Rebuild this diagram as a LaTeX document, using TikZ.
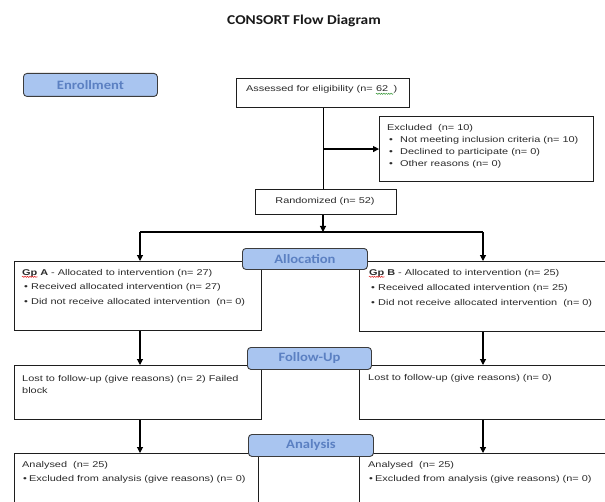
\documentclass[tikz,border=0pt]{standalone}
\usepackage{fontspec}
\usetikzlibrary{arrows.meta,decorations.pathmorphing}
\newfontfamily\boxfont{Liberation Sans}[FakeStretch=1.3]
\newfontfamily\lblfont{Carlito}[FakeStretch=1.14]
\definecolor{lblfill}{HTML}{A9C5F0}
\definecolor{lbltext}{HTML}{5B80C2}
\definecolor{lbldraw}{HTML}{3C3C3C}
\definecolor{txt}{HTML}{2B2B2B}
\definecolor{edge}{HTML}{1E1E1E}
\definecolor{squigred}{HTML}{E02020}
\definecolor{squiggreen}{HTML}{3A9A3A}
\newcommand\bitem[1]{\makebox[#1][l]{\textbullet}}
\begin{document}
\begin{tikzpicture}[x=1bp,y=-1bp,
  box/.style={draw=edge, line width=1.1bp, fill=white, inner sep=0pt, anchor=north west},
  lbl/.style={draw=lbldraw, line width=0.9bp, fill=lblfill, rounded corners=3.5bp, inner sep=0pt, anchor=north west, text=lbltext, font=\lblfont\bfseries\fontsize{12.8bp}{14bp}\selectfont},
  tx/.style={anchor=base west, inner sep=0pt, text=txt, font=\boxfont\fontsize{8.4bp}{12bp}\selectfont},
  arr/.style={draw=black, line width=1.1bp, -{Triangle[width=6bp,length=6bp]}},
  ln/.style={draw=black, line width=1.1bp},
  squig/.style={line width=0.5bp, decorate, decoration={snake, amplitude=0.6bp, segment length=2.4bp}}]
\useasboundingbox (0,0) rectangle (605,502);
\clip (0,0) rectangle (605,502);
\fill[white] (0,0) rectangle (605,502);

% title
\node[inner sep=0pt, text=black!90, font=\lblfont\bfseries\fontsize{13.5bp}{16bp}\selectfont] (title) at (304,21) {CONSORT Flow Diagram};

% boxes
\node[box, minimum width=173bp, minimum height=29bp] (assess) at (236,78) {};
\node[box, minimum width=214bp, minimum height=65bp] (excl) at (379,116) {};
\node[box, minimum width=141bp, minimum height=25bp] (rand) at (255,189) {};
\node[box, minimum width=247bp, minimum height=69bp] (gpA) at (14,261) {};
\node[box, minimum width=260bp, minimum height=70bp] (gpB) at (359,261) {};
\node[box, minimum width=247bp, minimum height=54bp] (lostA) at (14,365) {};
\node[box, minimum width=260bp, minimum height=54bp] (lostB) at (359,365) {};
\node[box, minimum width=244bp, minimum height=70bp] (anaA) at (14,453) {};
\node[box, minimum width=260bp, minimum height=70bp] (anaB) at (359,453) {};

% connectors
\coordinate (colA) at (140,232);
\coordinate (colB) at (483,232);
\coordinate (split) at (323,232);
\draw[ln] (assess.south) -- (assess.south |- rand.north);
\draw[arr] (assess.south |- excl.west) -- (excl.west);
\draw[arr] (split |- rand.south) -- (split);
\draw[ln] (colA) -- (colB);
\draw[arr] (colA) -- (colA |- gpA.north);
\draw[arr] (colB) -- (colB |- gpB.north);
\draw[arr] (colA |- gpA.south) -- (colA |- lostA.north);
\draw[arr] (colB |- gpB.south) -- (colB |- lostB.north);
\draw[arr] (colA |- lostA.south) -- (colA |- anaA.north);
\draw[arr] (colB |- lostB.south) -- (colB |- anaB.north);

% stage labels
\node[lbl, minimum width=134bp, minimum height=23bp] (enroll) at (23,73) {Enrollment};
\node[lbl, minimum width=125bp, minimum height=21bp] (alloc) at (242,248) {Allocation};
\node[lbl, minimum width=124bp, minimum height=22bp] (follow) at (247,347) {Follow-Up};
\node[lbl, minimum width=125bp, minimum height=22bp] (analysis) at (248,434) {Analysis};

% texts
\node[tx] (tAssess) at (246,92) {Assessed for eligibility (n=};
\node[tx] (tAssess62) at ([xshift=3bp]tAssess.base east) {62\kern5bp};
\node[tx] (tAssessEnd) at (tAssess62.base east) {)};
\draw[squig, squiggreen] ([yshift=-1.8bp]tAssess62.base west) -- ([yshift=-1.8bp]tAssess62.base east);

\node[tx] (tEx0) at (387,131) {Excluded\ \ (n= 10)};
\node[tx] (tEx1) at (389,143) {\bitem{11bp}Not meeting inclusion criteria (n= 10)};
\node[tx] (tEx2) at (389,155) {\bitem{11bp}Declined to participate (n= 0)};
\node[tx] (tEx3) at (389,167) {\bitem{11bp}Other reasons (n= 0)};
\node[tx, anchor=base] (tRand) at (325,204) {Randomized (n= 52)};

\node[tx] (gpAword) at (22,275) {\bfseries Gp};
\node[tx] (tA0) at (gpAword.base east) {\bfseries\kern2.5bp A\mdseries\ - Allocated to intervention (n= 27)};
\draw[squig, squigred] ([yshift=-1.8bp]gpAword.base west) -- ([yshift=-1.8bp]gpAword.base east);
\node[tx] (tA1) at (24,289) {\bitem{7bp}Received allocated intervention (n= 27)};
\node[tx] (tA2) at (24,304) {\bitem{7bp}Did not receive allocated intervention\ \ (n= 0)};

\node[tx] (gpBword) at (369,275) {\bfseries Gp};
\node[tx] (tB0) at (gpBword.base east) {\bfseries\kern2.5bp B\mdseries\ - Allocated to intervention (n= 25)};
\draw[squig, squigred] ([yshift=-1.8bp]gpBword.base west) -- ([yshift=-1.8bp]gpBword.base east);
\node[tx] (tB1) at (371,290) {\bitem{7bp}Received allocated intervention (n= 25)};
\node[tx] (tB2) at (371,305) {\bitem{7bp}Did not receive allocated intervention\ \ (n= 0)};

\node[tx] (tLA0) at (22,381) {Lost to follow-up (give reasons) (n= 2) Failed};
\node[tx] (tLA1) at (22,393) {block};
\node[tx] (tLB0) at (368,380) {Lost to follow-up (give reasons) (n= 0)};

\node[tx] (tNA0) at (22,467) {Analysed\ \ (n= 25)};
\node[tx] (tNA1) at (23,481) {\bitem{6bp}Excluded from analysis (give reasons) (n= 0)};
\node[tx] (tNB0) at (368,467) {Analysed\ \ (n= 25)};
\node[tx] (tNB1) at (369,481) {\bitem{6bp}Excluded from analysis (give reasons) (n= 0)};
\end{tikzpicture}
\end{document}
